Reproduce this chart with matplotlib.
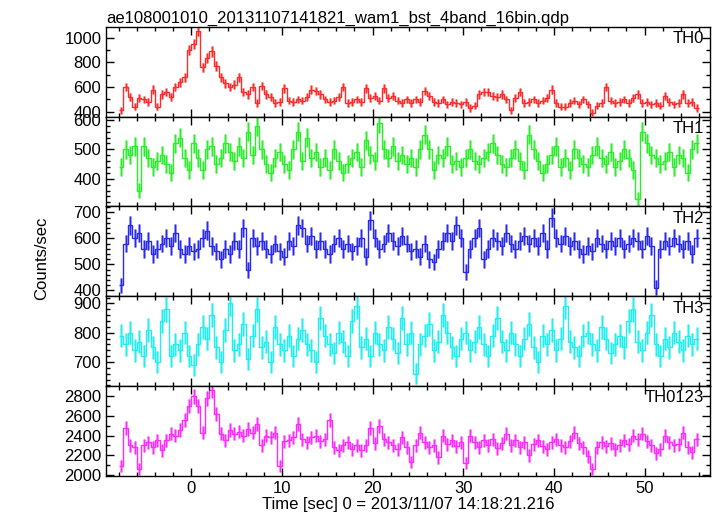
import numpy as np
from matplotlib import pyplot as plt
from matplotlib.ticker import MultipleLocator

TITLE = "ae108001010_20131107141821_wam1_bst_4band_16bin.qdp"
XLABEL = "Time [sec] 0 = 2013/11/07 14:18:21.216"
YLABEL = "Counts/sec"

BIN_WIDTH = 0.5
T_FIRST = -7.75

names = ["TH0", "TH1", "TH2", "TH3", "TH0123"]
colors = ["#ff2a2a", "#2aee2a", "#2a2aee", "#22eeee", "#ff2aff"]

th0 = [410, 600, 520, 440, 510, 500, 480, 580, 440, 540, 560, 520, 600, 640, 680, 900,
       950, 1060, 760, 840, 890, 770, 680, 630, 600, 620, 680, 560, 540, 600, 470, 610,
       540, 520, 470, 480, 590, 490, 480, 500, 490, 520, 580, 570, 540, 500, 480, 490,
       520, 600, 470, 480, 500, 480, 590, 510, 530, 490, 590, 510, 530, 490, 470, 500,
       470, 500, 480, 570, 530, 480, 470, 500, 460, 480, 470, 460, 480, 430, 450, 540,
       560, 560, 530, 520, 540, 500, 410, 510, 560, 470, 480, 500, 470, 490, 510, 580,
       470, 440, 440, 470, 490, 460, 500, 460, 390, 450, 470, 600, 490, 470, 480, 500,
       470, 510, 540, 470, 480, 460, 470, 450, 530, 480, 460, 470, 540, 470, 480, 430]

th1 = [440, 500, 480, 510, 360, 510, 470, 440, 460, 480, 450, 420, 520, 540, 470, 430,
       520, 470, 430, 500, 510, 450, 470, 520, 490, 460, 510, 470, 560, 480, 580, 500,
       450, 420, 470, 490, 450, 430, 500, 560, 460, 540, 470, 490, 440, 470, 430, 500,
       460, 420, 450, 470, 490, 440, 530, 480, 460, 590, 500, 470, 510, 460, 480, 450,
       470, 440, 500, 550, 500, 430, 480, 470, 510, 450, 460, 440, 470, 500, 460, 450,
       470, 490, 520, 480, 450, 440, 470, 500, 460, 430, 550, 500, 460, 420, 450, 480,
       510, 440, 470, 430, 500, 470, 450, 440, 480, 510, 470, 450, 490, 440, 460, 500,
       470, 430, 330, 560, 520, 480, 470, 450, 460, 490, 440, 480, 470, 420, 500, 520]

th2 = [420, 580, 650, 600, 620, 560, 590, 540, 560, 580, 600, 570, 620, 560, 540, 570,
       550, 560, 600, 630, 570, 550, 520, 560, 540, 590, 560, 640, 480, 600, 570, 590,
       560, 540, 580, 550, 530, 590, 570, 650, 640, 580, 610, 560, 590, 560, 540, 580,
       600, 560, 580, 550, 570, 600, 530, 670, 600, 560, 580, 620, 590, 570, 610, 580,
       550, 560, 530, 580, 520, 510, 560, 590, 620, 590, 650, 600, 470, 560, 600, 640,
       520, 560, 600, 590, 570, 620, 580, 560, 590, 610, 580, 600, 570, 620, 560, 680,
       600, 580, 610, 570, 590, 560, 540, 570, 550, 600, 580, 560, 590, 570, 600, 560,
       580, 600, 590, 560, 610, 570, 410, 560, 590, 570, 600, 580, 560, 590, 540, 600]

th3 = [790, 760, 800, 740, 770, 720, 810, 750, 700, 840, 880, 720, 760, 740, 800, 720,
       690, 760, 820, 780, 860, 750, 700, 810, 900, 740, 760, 830, 710, 790, 880, 750,
       770, 700, 820, 760, 740, 790, 720, 780, 810, 760, 740, 700, 850, 790, 760, 730,
       800, 770, 720, 840, 890, 750, 780, 720, 800, 760, 740, 820, 780, 730, 850, 760,
       800, 660, 760, 790, 830, 740, 770, 860, 800, 750, 720, 780, 800, 740, 770, 820,
       760, 720, 790, 850, 770, 740, 800, 760, 720, 780, 830, 750, 700, 790, 760, 810,
       740, 780, 890, 770, 750, 720, 790, 800, 760, 740, 820, 780, 730, 760, 790, 750,
       840, 880, 770, 740, 800, 860, 760, 720, 780, 750, 800, 770, 740, 790, 760, 780]

th0123 = [2090, 2480, 2300, 2280, 2060, 2300, 2330, 2280, 2350, 2250, 2350, 2420, 2400, 2460, 2560, 2700,
          2800, 2700, 2430, 2780, 2860, 2620, 2420, 2350, 2460, 2420, 2440, 2400, 2470, 2430, 2520, 2300,
          2400, 2380, 2430, 2090, 2340, 2350, 2380, 2520, 2360, 2330, 2380, 2400, 2340, 2360, 2560, 2280,
          2250, 2300, 2330, 2260, 2300, 2250, 2300, 2480, 2320, 2500, 2360, 2330, 2300, 2260, 2380, 2280,
          2130, 2300, 2430, 2330, 2280, 2300, 2180, 2400, 2310, 2350, 2290, 2330, 2120, 2400, 2330, 2280,
          2350, 2300, 2360, 2270, 2320, 2420, 2300, 2350, 2280, 2330, 2200, 2310, 2350, 2290, 2260, 2330,
          2360, 2300, 2280, 2340, 2430, 2320, 2280, 2190, 2060, 2280, 2330, 2290, 2320, 2260, 2300, 2350,
          2310, 2400, 2360, 2420, 2340, 2300, 2220, 2260, 2400, 2330, 2300, 2310, 2430, 2280, 2230, 2360]

series = [th0, th1, th2, th3, th0123]
ylims = [(360, 1090), (306, 611), (378, 723), (618, 925), (1990, 2905)]
ymajor = [200, 100, 100, 100, 200]
yminor = [100, 20, 20, 20, 100]


def main():
    plt.rcParams['font.family'] = ['Liberation Sans', 'DejaVu Sans']
    fig, axes = plt.subplots(5, 1, sharex=True, figsize=(7.17, 5.16), dpi=100)
    fig.subplots_adjust(left=0.148, right=0.990, top=0.948, bottom=0.078, hspace=0)

    for ax, name, col, vals, yl, ma, mi in zip(axes, names, colors, series, ylims, ymajor, yminor):
        rate = np.array(vals, dtype=float)
        t = T_FIRST + BIN_WIDTH * np.arange(len(rate))
        # poisson error for a 0.5 s bin
        err = np.sqrt(rate * BIN_WIDTH) / BIN_WIDTH
        ax.errorbar(t, rate, yerr=err, fmt='none', ecolor=col, elinewidth=2.2, alpha=0.45)
        ax.errorbar(t, rate, yerr=err, fmt='none', ecolor=col, elinewidth=0.9)
        # qdp "line step" style
        tt = np.append(t - BIN_WIDTH / 2, t[-1] + BIN_WIDTH / 2)
        ax.stairs(rate, tt, color=col, lw=1.0, baseline=None)
        ax.set_ylim(*yl)
        ax.set_xlim(-9.4, 57.2)
        ax.yaxis.set_major_locator(MultipleLocator(ma))
        ax.yaxis.set_minor_locator(MultipleLocator(mi))
        ax.xaxis.set_major_locator(MultipleLocator(10))
        ax.xaxis.set_minor_locator(MultipleLocator(2))
        ax.tick_params(which='both', direction='in', top=True, right=True, labelsize=12, width=1)
        ax.tick_params(which='major', length=6)
        ax.tick_params(which='minor', length=3)
        for s in ax.spines.values():
            s.set_linewidth(1)
        ax.text(0.99, 0.95, name, transform=ax.transAxes, ha='right', va='top', fontsize=12)

    axes[0].set_title(TITLE, loc='left', fontsize=12, pad=3)
    axes[-1].set_xlabel(XLABEL, fontsize=12, labelpad=1)
    fig.text(0.058, 0.5, YLABEL, rotation=90, ha='center', va='center', fontsize=12)

    plt.savefig("out.png", dpi=100)


if __name__ == "__main__":
    main()
